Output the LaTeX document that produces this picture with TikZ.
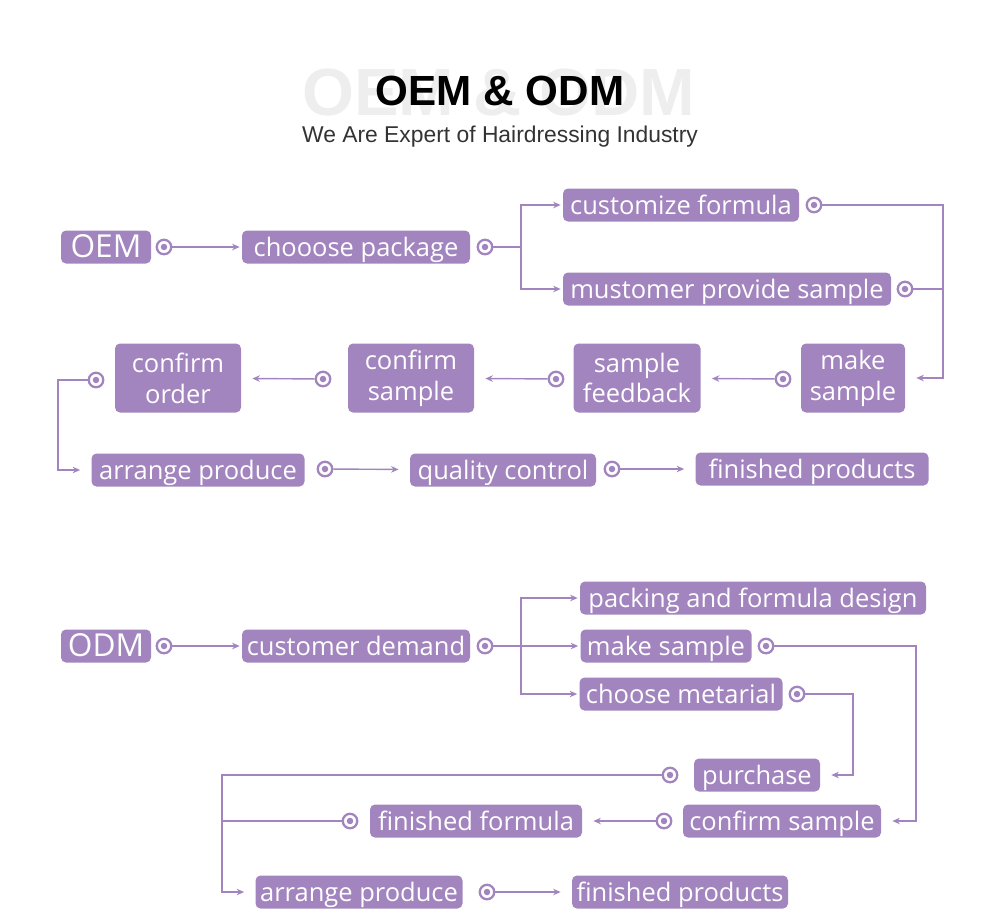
\documentclass[tikz,border=0pt]{standalone}
\usepackage{fontspec}
\setmainfont{Open Sans}
\newfontfamily\headfont{Liberation Sans}
\usetikzlibrary{arrows.meta}
\definecolor{lav}{HTML}{A285BE}
\definecolor{ghost}{HTML}{EEEEEE}
\tikzset{
  bx/.style={rectangle, rounded corners=1mm, fill=lav, text=white, minimum width=#1*0.2mm,
             minimum height=6.6mm, inner sep=0pt, font=\fontsize{14.5}{17}\selectfont,
             text height=13.4pt, text depth=3pt},                      % one-line step
  bx/.default=100,
  bt/.style={rectangle, rounded corners=1mm, fill=lav, text=white, minimum width=#1*0.2mm,
             minimum height=13.8mm, inner sep=0pt, align=center,
             font=\fontsize{14.5}{17.5}\selectfont},                   % two-line step
  big/.style={font=\fontsize{18}{18}\selectfont, text height=15pt},     % OEM / ODM
  pt/.style={circle, draw=lav, line width=1.3pt, fill=white, minimum size=2.9mm, inner sep=0pt,
             path picture={\fill[lav] (path picture bounding box.center) circle (0.65mm);}},
  ln/.style={draw=lav, line width=0.8pt},                               % plain line
  ar/.style={ln, -{Stealth[length=1.5mm,width=1.3mm]}, shorten >=0.4mm},% arrow
  ag/.style={ar, shorten >=2.2mm},                                      % arrow with gap
}

\begin{document}
\begin{tikzpicture}[x=0.2mm, y=-0.2mm]
  \useasboundingbox (0,0) rectangle (1000,920);
  % title
  \node[font=\headfont\bfseries\fontsize{38}{38}\selectfont, text=ghost, anchor=base, inner sep=0pt] (tg) at (499,115) {OEM \& ODM};
  \node[font=\headfont\bfseries\fontsize{24}{24}\selectfont, anchor=base, inner sep=0pt] (tt) at (500,105) {OEM \& ODM};
  \node[font=\headfont\fontsize{13}{13}\selectfont, text=black!80, anchor=base, inner sep=0pt] (ts) at (500,142) {We Are Expert of Hairdressing Industry};

  % OEM
  \node[bx=90, big] (oA) at (106,247) {OEM};
  \node[bx=228] (oB) at (356,247) {chooose package};
  \node[bx=236] (oC) at (681,205) {customize formula};
  \node[bx=328] (oD) at (727,289) {mustomer provide sample};
  \node[bt=104] (oE) at (853,378) {make\\sample};
  \node[bt=127] (oF) at (637,378) {sample\\feedback};
  \node[bt=126] (oG) at (411,378) {confirm\\sample};
  \node[bt=126] (oH) at (178,378) {confirm\\order};
  \node[bx=213] (oI) at (198,470) {arrange produce};
  \node[bx=186] (oJ) at (503,470) {quality control};
  \node[bx=233] (oK) at (812,469) {finished products};

  \node[pt] (pA) at (164,247) {};
  \node[pt] (pB) at (485,247) {};
  \node[pt] (pC) at (814,205) {};
  \node[pt] (pD) at (905,289) {};
  \node[pt] (pE) at (783,379) {};
  \node[pt] (pF) at (556,379) {};
  \node[pt] (pG) at (323,379) {};
  \node[pt] (pH) at (96,380) {};
  \node[pt] (pI) at (325,469) {};
  \node[pt] (pJ) at (612,469) {};

  \coordinate (jA) at (521,0);
  \coordinate (rA) at (943,0);
  \coordinate (lA) at (58,0);

  \draw[ar] (pA) -- (oB);
  \foreach \u/\v in {pE/oF,pF/oG,pG/oH,pI/oJ,pJ/oK} \draw[ag] (\u)--(\v);
  \draw[ar] (pB) -- (pB -| jA) |- (oC);
  \draw[ar] (pB -| jA) |- (oD);
  \draw[ag] (pC) -| (rA |- oE) -- (oE);
  \draw[ln] (pD) -- (pD -| rA);
  \draw[ag] (pH) -| (lA |- oI) -- (oI);

  % ODM
  \node[bx=90, big] (dA) at (106,646) {ODM};
  \node[bx=228] (dB) at (356,646) {customer demand};
  \node[bx=346] (dC) at (753,598) {packing and formula design};
  \node[bx=171] (dD) at (666,646) {make sample};
  \node[bx=203] (dE) at (681,694) {choose metarial};
  \node[bx=126] (dF) at (757,775) {purchase};
  \node[bx=198] (dG) at (782,821) {confirm sample};
  \node[bx=212] (dH) at (476,821) {finished formula};
  \node[bx=207] (dI) at (359,892) {arrange produce};
  \node[bx=216] (dJ) at (680,892) {finished products};

  \node[pt] (qA) at (164,646) {};
  \node[pt] (qB) at (485,646) {};
  \node[pt] (qD) at (766,646) {};
  \node[pt] (qE) at (797,694) {};
  \node[pt] (qF) at (670,775) {};
  \node[pt] (qG) at (664,821) {};
  \node[pt] (qH) at (350,821) {};
  \node[pt] (qI) at (487,892) {};

  \coordinate (rB) at (916,0);
  \coordinate (rC) at (853,0);
  \coordinate (lB) at (222,0);

  \draw[ar] (qA) -- (dB);
  \draw[ar] (qB) -- (dD);
  \draw[ar] (qB -| jA) |- (dC);
  \draw[ar] (qB -| jA) |- (dE);
  \draw[ag] (qD) -| (rB |- dG) -- (dG);
  \draw[ag] (qE) -| (rC |- dF) -- (dF);
  \draw[ag] (qF) -| (lB |- dI) -- (dI);
  \draw[ln] (qH) -- (qH -| lB);
  \foreach \u/\v in {qG/dH,qI/dJ} \draw[ag] (\u)--(\v);
\end{tikzpicture}
\end{document}
